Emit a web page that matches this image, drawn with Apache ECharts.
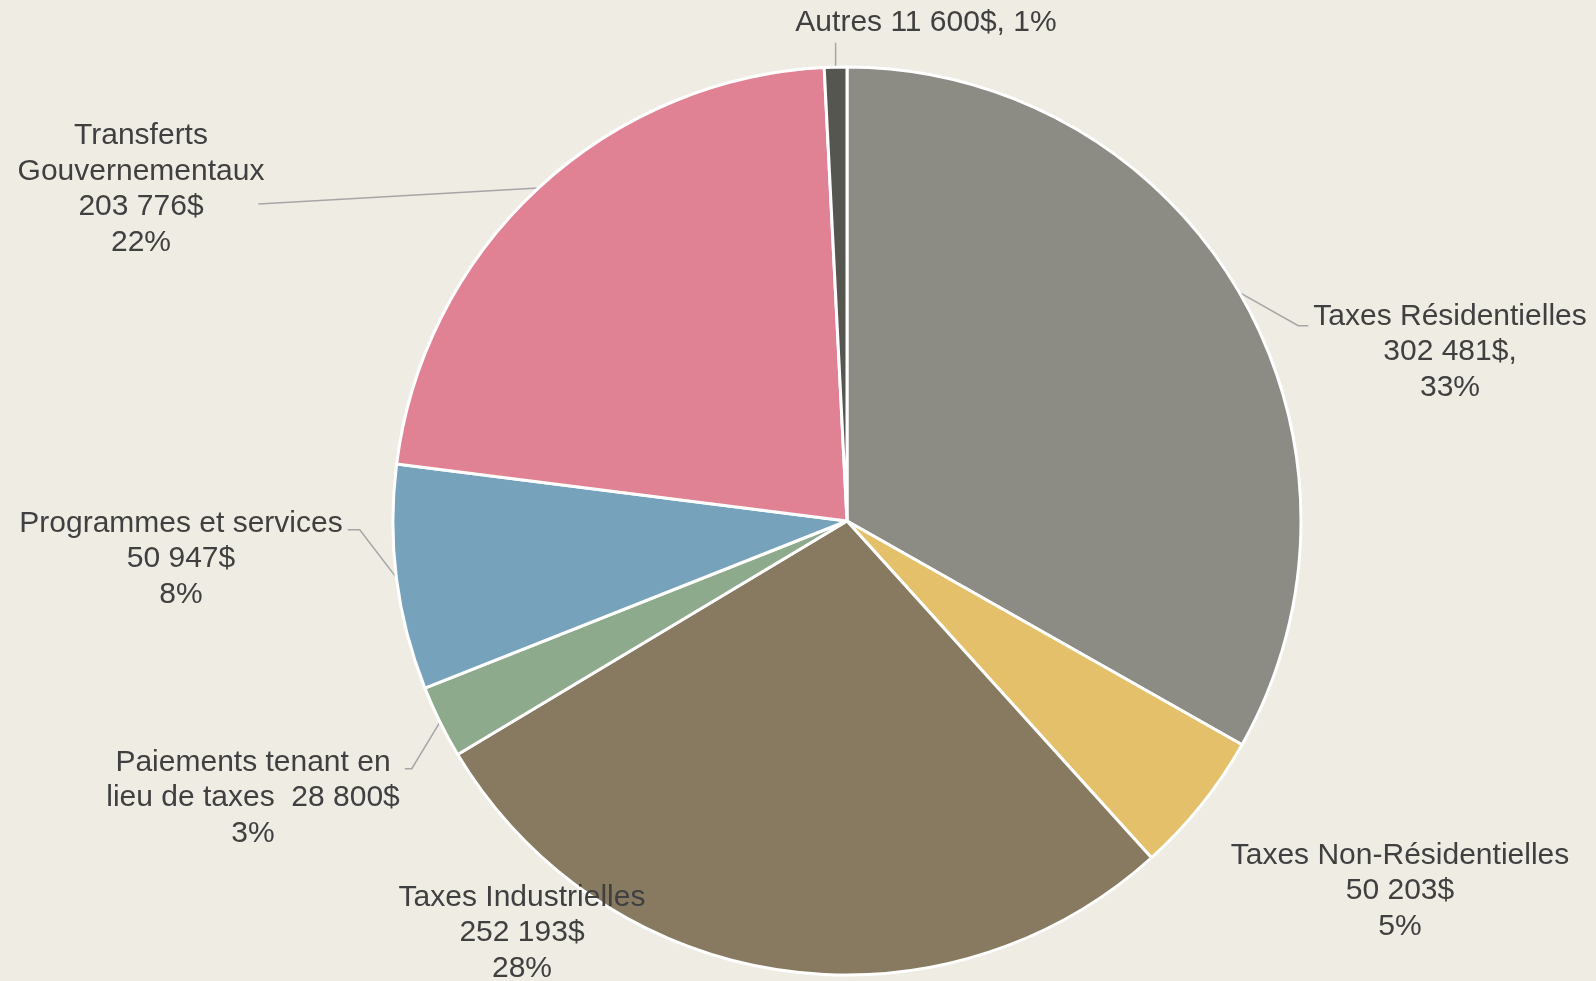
<!DOCTYPE html>
<html>
<head>
<meta charset="utf-8">
<script src="https://cdn.jsdelivr.net/npm/echarts@6/dist/echarts.min.js"></script>
<style>
  html, body { margin: 0; padding: 0; background: #EFECE4; }
  #main { width: 1596px; height: 981px; }
</style>
</head>
<body>
<div id="main"></div>
<script>
const categories = ['Taxes Résidentielles', 'Taxes Non-Résidentielles', 'Taxes Industrielles', 'Paiements tenant en lieu de taxes', 'Programmes et services', 'Transferts Gouvernementaux', 'Autres']
const amounts = [302481, 50203, 252193, 28800, 50947, 203776, 11600]
// part of the pie as drawn (percent)
const shares = [33.2, 5.1, 28.1, 2.6, 8.0, 22.2, 0.8]
const labelTexts = [
  'Taxes Résidentielles\n302 481$,\n33%',
  'Taxes Non-Résidentielles\n50 203$\n5%',
  'Taxes Industrielles\n252 193$\n28%',
  'Paiements tenant en\nlieu de taxes  28 800$\n3%',
  'Programmes et services\n50 947$\n8%',
  'Transferts\nGouvernementaux\n203 776$\n22%',
  'Autres 11 600$, 1%'
]
const colors = ['#8C8C85', '#E5C06A', '#877A60', '#8DAA8C', '#76A2BC', '#E08294', '#55564F']
const labelPos = [[1450, 352], [1400, 891], [522, 933], [253, 798], [181, 559], [141, 189], [926, 23]]
// where the leader line meets the label box: side, offset from box top, horizontal stub
const lineAnchor = [['left', 27, 10], null, null, ['right', 24, 7], ['right', 24, 12], ['inside', 86, 0], ['bottom', 0, 0]]

const chart = echarts.init(document.getElementById('main'))

let data = categories.map((name, i) => ({
  name: name,
  value: shares[i],
  amount: amounts[i],
  itemStyle: { color: colors[i] },
  labelLine: { show: lineAnchor[i] != null }
}))

let option = {
  backgroundColor: '#EFECE4',
  animation: false,
  series: [{
    type: 'pie',
    center: [847, 521],
    radius: 454,
    startAngle: 90,
    clockwise: true,
    data: data,
    itemStyle: {
      borderColor: '#ffffff',
      borderWidth: 3
    },
    label: {
      show: true,
      position: 'outside',
      formatter: (p) => labelTexts[p.dataIndex],
      fontFamily: 'Liberation Sans',
      fontSize: 30,
      lineHeight: 35.5,
      color: '#404040',
      align: 'center'
    },
    labelLine: {
      show: true,
      length: 10,
      length2: 10,
      lineStyle: {
        color: '#A6A6A6',
        width: 1.5
      }
    },
    labelLayout: (params) => {
      let i = params.dataIndex
      let pos = labelPos[i]
      let w = params.labelRect.width
      let h = params.labelRect.height
      let left = pos[0] - w / 2, right = pos[0] + w / 2
      let top = pos[1] - h / 2, bottom = pos[1] + h / 2
      let res = { x: pos[0], y: pos[1], align: 'center', verticalAlign: 'middle' }
      let a = lineAnchor[i]
      if (a && params.labelLinePoints) {
        let edge = params.labelLinePoints[0]
        let y = top + a[1]
        if (a[0] === 'left') {
          res.labelLinePoints = [edge, [left - 5 - a[2], y], [left - 5, y]]
        } else if (a[0] === 'right') {
          res.labelLinePoints = [edge, [right + 5 + a[2], y], [right + 5, y]]
        } else if (a[0] === 'inside') {
          res.labelLinePoints = [edge, [right - 6, y]]
        } else {
          res.labelLinePoints = [edge, [edge[0], bottom + 2]]
        }
      }
      return res
    }
  }]
}
chart.setOption(option)
</script>
</body>
</html>
